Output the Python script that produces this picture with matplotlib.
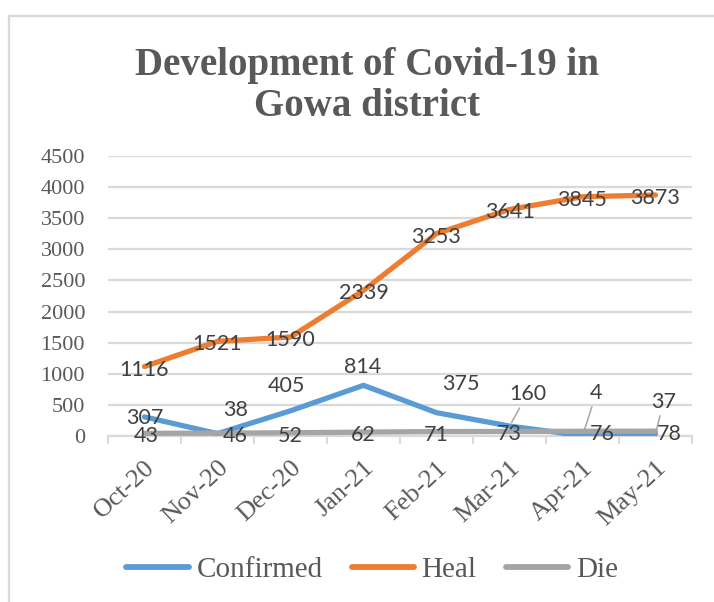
import matplotlib
matplotlib.use("Agg")
import matplotlib.pyplot as plt
from matplotlib.patches import Rectangle

# ---------------- data ----------------
months = ["Oct-20", "Nov-20", "Dec-20", "Jan-21", "Feb-21", "Mar-21", "Apr-21", "May-21"]
confirmed = [307, 38, 405, 814, 375, 160, 4, 37]
heal = [1116, 1521, 1590, 2339, 3253, 3641, 3845, 3873]
die = [43, 46, 52, 62, 71, 73, 76, 78]
y_ticks = [0, 500, 1000, 1500, 2000, 2500, 3000, 3500, 4000, 4500]
series_names = ["Confirmed", "Heal", "Die"]
title_text = "Development of Covid-19 in\nGowa district"

# ---------------- style ----------------
colors = ["#5B9BD5", "#ED7D31", "#A5A5A5"]
text_col = "#595959"
label_col = "#404040"
grid_col = "#D9D9D9"
serif = ["Liberation Serif", "DejaVu Serif"]
sans = ["Lato", "DejaVu Sans"]

# data-label offsets (pixels) and leader lines
conf_off = [(0, -1), (18, 24), (-4, 25), (-1, 18), (24, 29), (18, 32), (14, 43), (8, 32)]
conf_leader = [False, False, False, False, False, True, True, True]
heal_off = [(0, -3)] * 8
die_off = [(2, -3), (18, -3), (0, -3), (0, -3), (0, -3), (0, -3), (20, -3), (14, -3)]

W, H = 714, 602
fig = plt.figure(figsize=(W / 100, H / 100), dpi=100)
fig.patch.set_facecolor("white")

# outer chart frame (cut at right/bottom like the reference)
fig.patches.append(Rectangle((9 / W, -0.1), 1.2, 1 - 16 / H + 0.1,
                             transform=fig.transFigure, fill=False,
                             edgecolor=grid_col, linewidth=1.6))

ax = fig.add_axes([108 / W, 1 - 436 / H, (692 - 108) / W, (436 - 156) / H])
x = list(range(len(months)))

for i, (vals, name) in enumerate(zip([confirmed, heal, die], series_names)):
    ax.plot(x, vals, color=colors[i], lw=3.8, label=name,
            solid_capstyle="round", solid_joinstyle="round", zorder=3 + i)

ax.set_xlim(-0.5, len(months) - 0.5)
ax.set_ylim(0, 4500)
ax.set_yticks(y_ticks)
ax.set_yticklabels([str(v) for v in y_ticks], fontfamily=serif, fontsize=16, color=text_col)
ax.yaxis.grid(True, color=grid_col, lw=1.6, zorder=0)
ax.tick_params(axis="y", length=0, pad=16.5)
ax.set_xticks(x)
ax.set_xticklabels(months, rotation=43, ha="right", va="top", rotation_mode="anchor",
                   fontfamily=serif, fontsize=19, color=text_col)
ax.tick_params(axis="x", which="major", length=0, pad=15)
ax.set_xticks([v - 0.5 for v in range(len(months) + 1)], minor=True)
ax.tick_params(axis="x", which="minor", length=6, width=1.4, color=grid_col, direction="out")
for s in ["top", "right", "left"]:
    ax.spines[s].set_visible(False)
ax.spines["bottom"].set_color(grid_col)
ax.spines["bottom"].set_linewidth(1.6)
ax.set_axisbelow(True)


def add_labels(vals, offs, leaders=None):
    for i, v in enumerate(vals):
        dx, dy = offs[i]
        kw = {}
        if leaders is not None and leaders[i]:
            kw["arrowprops"] = dict(arrowstyle="-", color="#A6A6A6", lw=1.1,
                                    shrinkA=1, shrinkB=3)
        ax.annotate(str(v), xy=(x[i], v), xytext=(dx, dy), textcoords="offset pixels",
                    ha="center", va="center", fontfamily=sans, fontsize=15.5,
                    color=label_col, zorder=10, annotation_clip=False, **kw)


add_labels(confirmed, conf_off, conf_leader)
add_labels(heal, heal_off)
add_labels(die, die_off)

fig.text(367 / W, 1 - 86 / H, title_text, ha="center", va="center",
         fontfamily=serif, fontweight="bold", fontsize=28, color=text_col,
         linespacing=1.12)

leg = fig.legend(loc="center", bbox_to_anchor=(372 / W, 1 - 570 / H), ncol=3,
                 frameon=False, prop={"family": serif, "size": 21},
                 handlelength=2.15, handletextpad=0.25, columnspacing=1.0,
                 borderpad=0)
for t in leg.get_texts():
    t.set_color(text_col)
for h in leg.get_lines():
    h.set_linewidth(4.2)
    h.set_solid_capstyle("round")

fig.savefig("out.png", dpi=100)
